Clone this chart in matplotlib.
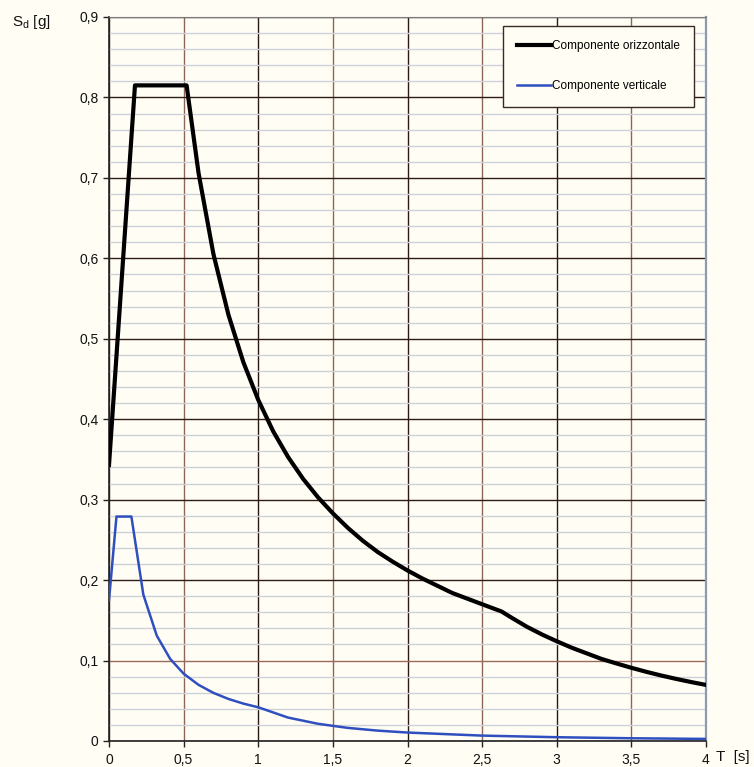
import matplotlib
matplotlib.use("Agg")
import matplotlib.pyplot as plt
import numpy as np

plt.rcParams['font.family'] = ['Liberation Sans', 'DejaVu Sans']

# spettro orizzontale
T_oriz = [0, 0.174, 0.52, 0.6, 0.7, 0.8, 0.9, 1.0, 1.1, 1.2, 1.3, 1.4, 1.5,
          1.6, 1.7, 1.8, 1.9, 2.0, 2.1, 2.2, 2.3, 2.4, 2.5, 2.63, 2.7, 2.8,
          2.9, 3.0, 3.1, 3.2, 3.3, 3.4, 3.5, 3.6, 3.7, 3.8, 3.9, 4.0]
Sd_oriz = [0.343, 0.815, 0.815, 0.706, 0.605, 0.530, 0.471, 0.424, 0.385,
           0.353, 0.326, 0.303, 0.283, 0.265, 0.249, 0.235, 0.223, 0.212,
           0.202, 0.193, 0.184, 0.177, 0.170, 0.161, 0.153, 0.142, 0.1325,
           0.124, 0.116, 0.109, 0.102, 0.0964, 0.091, 0.086, 0.0814, 0.0772,
           0.0733, 0.0697]

# spettro verticale
T_vert = [0, 0.05, 0.15, 0.23, 0.32, 0.41, 0.5, 0.6, 0.7, 0.8, 0.9, 1.0,
          1.2, 1.4, 1.6, 1.8, 2.0, 2.5, 3.0, 3.5, 4.0]
Sd_vert = [0.175, 0.279, 0.279, 0.182, 0.131, 0.102, 0.0837, 0.0698, 0.0598,
           0.0523, 0.0465, 0.0419, 0.0291, 0.0214, 0.0163, 0.0129, 0.0105,
           0.0067, 0.0047, 0.0034, 0.0026]

xticks = [0, 0.5, 1, 1.5, 2, 2.5, 3, 3.5, 4]
xlabels = ['0', '0,5', '1', '1,5', '2', '2,5', '3', '3,5', '4']
yticks = [0, 0.1, 0.2, 0.3, 0.4, 0.5, 0.6, 0.7, 0.8, 0.9]
ylabels = ['0', '0,1', '0,2', '0,3', '0,4', '0,5', '0,6', '0,7', '0,8', '0,9']

bg = '#fffdf4'
fig = plt.figure(figsize=(7.54, 7.67), dpi=100, facecolor=bg)
ax = fig.add_axes([109/754, 1 - 741/767, (706-109)/754, (741-17)/767])
ax.set_facecolor(bg)

ax.plot(T_oriz, Sd_oriz, color='black', lw=3.0, solid_joinstyle='round',
        label='Componente orizzontale', zorder=3)
ax.plot(T_vert, Sd_vert, color='#2f4fbf', lw=1.8,
        label='Componente verticale', zorder=3)

ax.set_xlim(0, 4)
ax.set_ylim(0, 0.9)
ax.set_xticks(xticks)
ax.set_xticklabels(xlabels)
ax.set_yticks(yticks)
ax.set_yticklabels(ylabels)
ax.set_yticks(np.arange(0, 0.9, 0.02), minor=True)
ax.set_axisbelow(True)

ax.grid(which='minor', axis='y', color='#cdd1d8', lw=1.0)
ax.grid(which='major', axis='both', lw=1.0)
for i, gl in enumerate(ax.get_xgridlines()):
    gl.set_color('#2a1a14' if i % 2 == 0 else '#8c6458')
for i, gl in enumerate(ax.get_ygridlines()):
    gl.set_color('#9a6a5c' if i == 1 else '#2e1c16')

ax.tick_params(axis='both', which='major', length=4, width=1, color='#222222',
               labelsize=10, labelcolor='#111111')
ax.tick_params(axis='y', which='minor', length=0)
ax.tick_params(axis='x', pad=5)

ax.spines['left'].set_color('#222222')
ax.spines['bottom'].set_color('#222222')
ax.spines['top'].set_color('#7a7a7a')
ax.spines['right'].set_color('#8d9bb0')
ax.spines['right'].set_linewidth(1.6)
ax.spines['left'].set_linewidth(1.2)
ax.spines['bottom'].set_linewidth(1.2)

fig.text(12/754, 1 - 22/767, r'S$_\mathregular{d}$ [g]', fontsize=11,
         va='center', ha='left', color='#111111')
fig.text(716/754, 1 - 757/767, 'T  [s]', fontsize=11, va='center',
         ha='left', color='#111111')

leg = ax.legend(loc='upper left', bbox_to_anchor=((503-109)/597, 1 - (26-17)/724),
                fontsize=8.5, frameon=True, fancybox=False, borderpad=1.2,
                labelspacing=2.4, handlelength=2.9, handletextpad=0.05,
                borderaxespad=0)
leg.get_frame().set_edgecolor('#3a2a24')
leg.get_frame().set_facecolor(bg)
leg.get_frame().set_alpha(1)
leg.get_frame().set_linewidth(1.0)

fig.savefig('out.png', dpi=100, facecolor=bg)
